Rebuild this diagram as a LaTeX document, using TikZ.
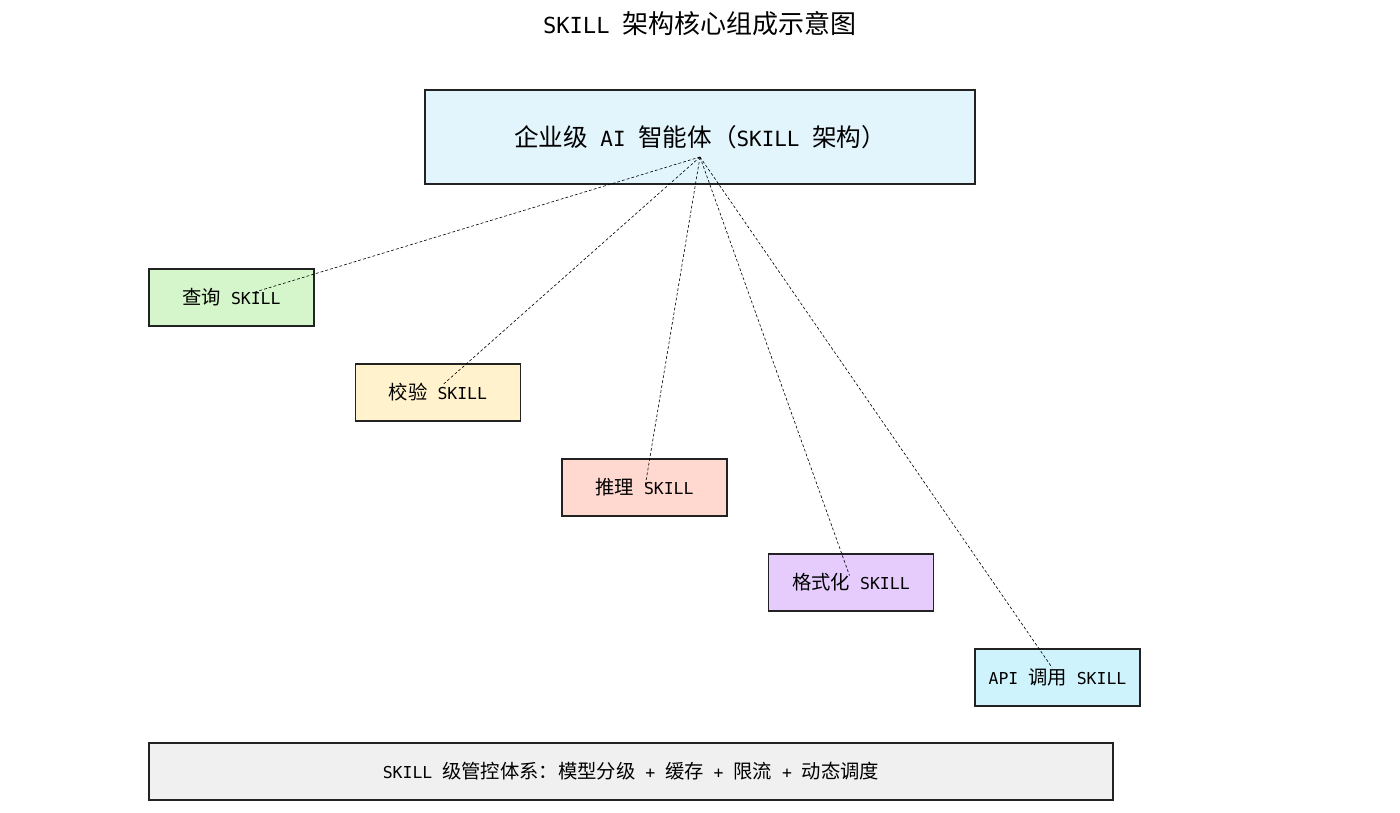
\documentclass[tikz,border=0pt]{standalone}
\usepackage{fontspec}
\setmainfont{Noto Sans CJK SC}
\newfontfamily\halfwidth{DejaVu Sans Mono}[Scale=0.85]
\newcommand{\hw}[1]{{\halfwidth #1}}
\usepackage{tikz}
\usetikzlibrary{positioning,calc}
\definecolor{AgentBlue}{HTML}{E3F5FC}
\definecolor{QueryGreen}{HTML}{D4F6CA}
\definecolor{CheckCream}{HTML}{FFF2CD}
\definecolor{ReasonRose}{HTML}{FFD8D0}
\definecolor{FormatLilac}{HTML}{E6CCFC}
\definecolor{ApiCyan}{HTML}{CFF3FD}
\definecolor{GovernGray}{HTML}{F0F0F0}
\definecolor{EdgeInk}{HTML}{222222}

\begin{document}
\begin{tikzpicture}[
  skillbox/.style={draw=EdgeInk, line width=0.8pt, outer sep=0pt, minimum width=3.3cm, minimum height=1.14cm, inner sep=0pt, font=\fontsize{11}{13}\selectfont},
  linkline/.style={draw=black, line width=0.35pt, dash pattern=on 1.6pt off 1.2pt}]
\useasboundingbox (-14,2.74) rectangle (14,-13.5);
\node[font=\fontsize{14.8}{17}\selectfont] (title) at (0,2.26) {\hw{SKILL }架构核心组成示意图};
\node[draw=EdgeInk, fill=AgentBlue, line width=0.8pt, minimum width=11cm, minimum height=1.88cm, font=\fontsize{14}{16}\selectfont] (agent) at (0,0) {企业级\hw{ AI }智能体（\hw{SKILL }架构）};
\coordinate (hub) at (0,-0.4);
\node[skillbox, fill=QueryGreen] (query) at (-9.37,-3.21) {查询\hw{ SKILL}};
\node[skillbox, fill=CheckCream, below right=0.76cm and 0.83cm of query] (check) {校验\hw{ SKILL}};
\node[skillbox, fill=ReasonRose, below right=0.76cm and 0.83cm of check] (reason) {推理\hw{ SKILL}};
\node[skillbox, fill=FormatLilac, below right=0.76cm and 0.83cm of reason] (format) {格式化\hw{ SKILL}};
\node[skillbox, fill=ApiCyan, below right=0.76cm and 0.83cm of format] (api) {\hw{API }调用\hw{ SKILL}};
\node[draw=EdgeInk, fill=GovernGray, line width=0.8pt, minimum width=19.28cm, minimum height=1.14cm, font=\fontsize{11}{13}\selectfont] (govern) at (-1.38,-12.69) {\hw{SKILL }级管控体系：模型分级\hw{ + }缓存\hw{ + }限流\hw{ + }动态调度};
% dashed links from the agent to each skill
\draw[linkline] (hub) -- ($(query)+(0.47,0.11)$);
\draw[linkline] (hub) -- ($(check)+(0.09,0.15)$);
\draw[linkline] (hub) -- ($(reason)+(0.01,0.01)$);
\draw[linkline] (hub) -- ($(format)+(-0.03,0.14)$);
\draw[linkline] (hub) -- ($(api)+(-0.11,0.2)$);
\end{tikzpicture}
\end{document}
